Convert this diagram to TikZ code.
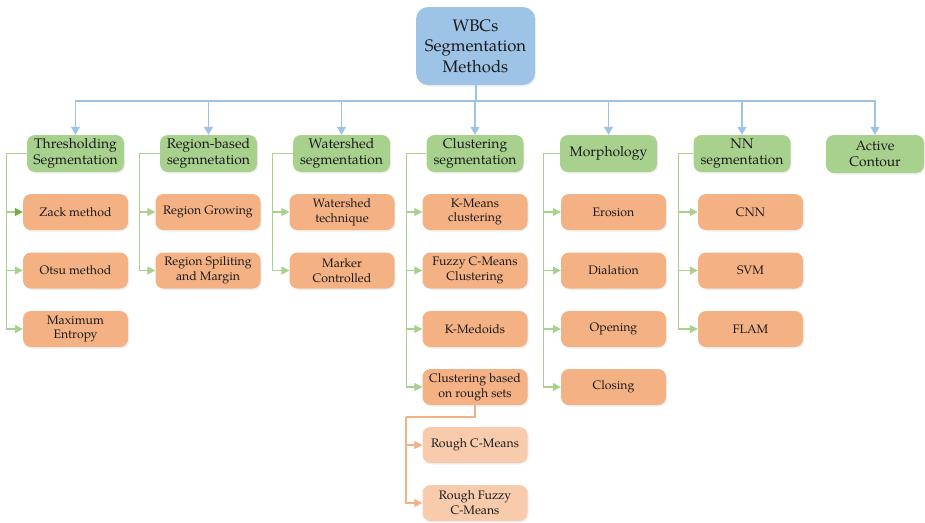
\documentclass[tikz,border=0pt]{standalone}
\usepackage{fontspec}
\setmainfont{TeX Gyre Pagella}
\usetikzlibrary{arrows.meta,shadows}
\definecolor{bluef}{HTML}{9DC3E6}
\definecolor{greenf}{HTML}{A9D18E}
\definecolor{greend}{HTML}{70AD47}
\definecolor{orangef}{HTML}{F4B183}
\definecolor{lorangef}{HTML}{F8CBAD}
\definecolor{txt}{HTML}{1A1A1A}
\begin{document}
\begin{tikzpicture}[x=1pt,y=1pt,
  box/.style={rounded corners=8pt, align=center, inner sep=0pt, text=txt,
    drop shadow={opacity=0.12, shadow xshift=1.2pt, shadow yshift=-1.5pt}},
  rootbox/.style={box, fill=bluef, minimum width=119pt, minimum height=78pt,
    rounded corners=12pt, font=\fontsize{16.7}{20.5}\selectfont},
  catbox/.style={box, fill=greenf, minimum width=97pt, minimum height=37pt,
    font=\fontsize{13.9}{16.5}\selectfont},
  subbox/.style={box, fill=orangef, minimum width=105pt, minimum height=36pt,
    font=\fontsize{12.3}{14.8}\selectfont},
  roughbox/.style={subbox, fill=lorangef},
  bline/.style={draw=bluef, line width=1.3pt, -{Triangle[length=8pt,width=9pt]}},
  gline/.style={draw=greenf, line width=1.3pt, -{Triangle[length=8pt,width=8pt]}},
  gdark/.style={draw=greenf, line width=1.3pt, -{Triangle[length=8pt,width=8pt,color=greend]}},
  oline/.style={draw=orangef, line width=1.3pt, -{Triangle[length=8pt,width=8pt]}},
  oplain/.style={draw=orangef, line width=1.3pt}
]
\useasboundingbox (0,0) rectangle (925,-522);

% root
\node[rootbox] (root) at (475.5,-46) {WBCs\\Segmentation\\Methods};

% categories
\node[catbox] (g1) at (75.5,-153.5) {Thresholding\\Segmentation};
\node[catbox] (g2) at (208.5,-153.5) {Region-based\\segmnetation};
\node[catbox] (g3) at (341.5,-153.5) {Watershed\\segmentation};
\node[catbox] (g4) at (475,-153.5) {Clustering\\segmentation};
\node[catbox] (g5) at (608.5,-153.5) {Morphology};
\node[catbox] (g6) at (742,-153.5) {NN\\segmentation};
\node[catbox, minimum width=98pt, minimum height=38pt] (g7) at (875,-154) {Active\\Contour};

% blue tree
\coordinate (bj) at (476,-101);
\draw[draw=bluef, line width=1.3pt] (root.south -| bj) -- (bj);
\foreach \g in {g1,g2,g3,g4,g5,g6,g7}{
  \draw[bline] (bj) -| (\g.north);
}

% children: thresholding
\node[subbox] (c11) at (75.5,-212) {Zack method};
\node[subbox] (c12) at (75.5,-270.5) {Otsu method};
\node[subbox] (c13) at (75.5,-329) {Maximum\\Entropy};
% region-based
\node[subbox] (c21) at (208,-212) {Region Growing};
\node[subbox] (c22) at (208,-270.5) {Region Spiliting\\and Margin};
% watershed
\node[subbox] (c31) at (342,-212) {Watershed\\technique};
\node[subbox] (c32) at (342,-270.5) {Marker\\Controlled};
% clustering
\node[subbox] (c41) at (475,-212) {K-Means\\clustering};
\node[subbox] (c42) at (475,-270.5) {Fuzzy C-Means\\Clustering};
\node[subbox] (c43) at (475,-329) {K-Medoids};
\node[subbox] (c44) at (475,-387) {Clustering based\\on rough sets};
\node[roughbox] (r1) at (475,-445) {Rough C-Means};
\node[roughbox] (r2) at (475,-503) {Rough Fuzzy\\C-Means};
% morphology
\node[subbox] (c51) at (613.5,-212) {Erosion};
\node[subbox] (c52) at (613.5,-270.5) {Dialation};
\node[subbox] (c53) at (613.5,-329) {Opening};
\node[subbox] (c54) at (613.5,-387) {Closing};
% NN
\node[subbox] (c61) at (750.5,-212) {CNN};
\node[subbox] (c62) at (750.5,-270.5) {SVM};
\node[subbox] (c63) at (750.5,-329) {FLAM};

% green connectors
\draw[gdark] (g1.west) -- ++(-20,0) |- (c11.west);
\foreach \c in {c12,c13}{\draw[gline] (g1.west) -- ++(-20,0) |- (\c.west);}
\foreach \c in {c21,c22}{\draw[gline] (g2.west) -- ++(-20,0) |- (\c.west);}
\foreach \c in {c31,c32}{\draw[gline] (g3.west) -- ++(-20,0) |- (\c.west);}
\foreach \c in {c41,c42,c43,c44}{\draw[gline] (g4.west) -- ++(-20,0) |- (\c.west);}
\foreach \c in {c51,c52,c53,c54}{\draw[gline] (g5.west) -- ++(-16,0) |- (\c.west);}
\foreach \c in {c61,c62,c63}{\draw[gline] (g6.west) -- ++(-15,0) |- (\c.west);}

% orange sub-branch
\coordinate (rb) at (406,-417);
\draw[oplain] (c44.south) |- (rb);
\draw[oline] (rb) |- (r1.west);
\draw[oline] (rb) |- (r2.west);
\end{tikzpicture}
\end{document}
